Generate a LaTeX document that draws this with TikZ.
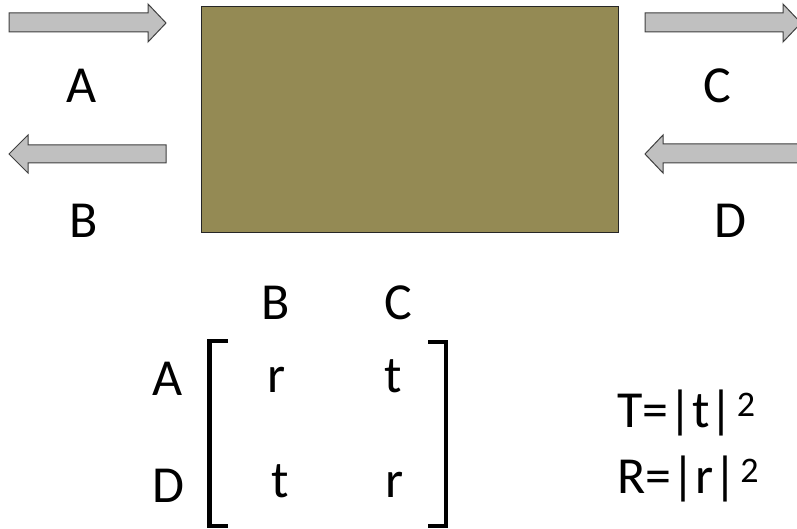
\documentclass[tikz,border=0pt]{standalone}
\usepackage{fontspec}
\setmainfont{Carlito}
\definecolor{sampleolive}{HTML}{948A54}
\definecolor{arrowgray}{HTML}{C0C0C0}
\newcommand{\sqmark}{\kern3pt{\fontsize{36}{38}\selectfont\raisebox{11pt}{2}}}
\tikzset{
  blockarrow/.style={fill=arrowgray,draw=black!75,line width=1pt,line join=miter},
  biglabel/.style={font=\fontsize{52}{62}\selectfont,anchor=base,inner sep=0pt},
  bracketline/.style={line width=4.5pt,line cap=butt,line join=miter},
}
\begin{document}
\begin{tikzpicture}[x=1pt,y=-1pt]
  \useasboundingbox (0,0) rectangle (797,529);
  % the sample
  \draw[fill=sampleolive,draw=black!85,line width=1pt] (201,7) rectangle (618,233);
  % ports: A in, B out (left), C out, D in (right)
  \draw[blockarrow] (9,13) -- (148,13) -- (148,4) -- (166,23) -- (148,42) -- (148,32) -- (9,32) -- cycle;
  \draw[blockarrow] (166,145) -- (28,145) -- (28,135) -- (9,154) -- (28,173) -- (28,163) -- (166,163) -- cycle;
  \draw[blockarrow] (645,13) -- (783,13) -- (783,4) -- (801,23) -- (783,42) -- (783,32) -- (645,32) -- cycle;
  \draw[blockarrow] (805,144) -- (663,144) -- (663,135) -- (645,154) -- (663,173) -- (663,163) -- (805,163) -- cycle;
  \node[biglabel] (portA) at (82,103) {A};
  \node[biglabel] (portB) at (84,237) {B};
  \node[biglabel] (portC) at (717,103) {C};
  \node[biglabel] (portD) at (730,237) {D};
  % scattering matrix
  \node[biglabel] (colB) at (276,319) {B};
  \node[biglabel] (colC) at (398,319) {C};
  \node[biglabel] (rowA) at (168,395) {A};
  \node[biglabel] (rowD) at (168,502) {D};
  \node[biglabel] (sAB) at (277,392) {r};
  \node[biglabel] (sAC) at (393,392) {t};
  \node[biglabel] (sDB) at (280,497) {t};
  \node[biglabel] (sDC) at (395,497) {r};
  \draw[bracketline] (228,341) -- (209.5,341) -- (209.5,526) -- (228,526);
  \draw[bracketline] (428,342) -- (446,342) -- (446,526) -- (428,526);
  % power coefficients
  \node[biglabel,anchor=base west] (coefT) at (617,427) {T=|t|\sqmark};
  \node[biglabel,anchor=base west] (coefR) at (617,493) {R=|r|\sqmark};
\end{tikzpicture}
\end{document}
